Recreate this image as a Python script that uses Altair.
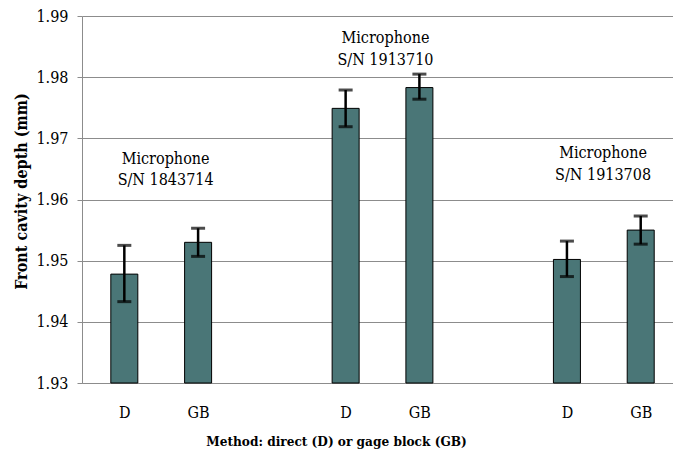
import altair as alt
import pandas as pd

# Bar slots: three microphones, two methods each, with an empty slot between groups
slot = [1, 2, 4, 5, 7, 8]
method = ["D", "GB", "D", "GB", "D", "GB"]
depth = [1.9478, 1.9530, 1.9749, 1.9783, 1.9502, 1.9550]
err_low = [1.9433, 1.9507, 1.9719, 1.9764, 1.9474, 1.9527]
err_high = [1.9525, 1.9553, 1.9779, 1.9805, 1.9532, 1.9573]

# Microphone labels placed above each group
ann_x = [1.56, 4.54, 7.49]
ann_line1 = ["Microphone", "Microphone", "Microphone"]
ann_line2 = ["S/N 1843714", "S/N 1913710", "S/N 1913708"]
ann_y1 = [1.9658, 1.9856, 1.9668]
ann_y2 = [1.9624, 1.9820, 1.9632]

y_ticks = [1.93, 1.94, 1.95, 1.96, 1.97, 1.98, 1.99]
y_base = 1.93

bars = pd.DataFrame({"slot": slot, "method": method, "depth": depth,
                     "lo": err_low, "hi": err_high})
ann = pd.DataFrame({"x": ann_x + ann_x, "y": ann_y1 + ann_y2,
                    "t": ann_line1 + ann_line2})

FONT = "DejaVu Serif Condensed"
label_expr = "(datum.value == 1 || datum.value == 4 || datum.value == 7) ? 'D' : 'GB'"

x_scale = alt.Scale(domain=[0.494, 8.37], nice=False, zero=False)
y_scale = alt.Scale(domain=[1.93, 1.99], nice=False, zero=False)

x_enc = alt.X(
    "slot:Q", scale=x_scale,
    axis=alt.Axis(values=slot, labelExpr=label_expr, grid=False, ticks=False,
                  domain=True, domainColor="#8c8c8c", labelFont=FONT,
                  labelFontSize=16, labelColor="black", labelBaseline="alphabetic",
                  labelPadding=34, labelFlush=False, labelOverlap=False,
                  title="Method: direct (D) or gage block (GB)",
                  titleFont=FONT, titleFontSize=13.5, titleFontWeight="bold",
                  titleColor="black", titleBaseline="alphabetic", titleX=254,
                  titleY=62, titleAnchor="middle"),
)
y_enc = alt.Y(
    "depth:Q", scale=y_scale,
    axis=alt.Axis(values=y_ticks, format=".2f", grid=True, gridColor="#8c8c8c",
                  gridWidth=1, domainColor="#8c8c8c", tickColor="#8c8c8c",
                  tickSize=5, labelFont=FONT, labelFontSize=16, labelColor="black",
                  labelPadding=9, title="Front cavity depth (mm)", titleFont=FONT,
                  titleFontSize=16, titleFontWeight="bold", titleColor="black",
                  titleX=-61, titleY=175, titleAngle=-90, titleBaseline="middle",
                  titleAnchor="middle"),
)

bar_layer = alt.Chart(bars).mark_bar(
    size=27, color="#4a7677", stroke="black", strokeWidth=1
).encode(x=x_enc, y=y_enc, y2=alt.datum(y_base))

whisker = alt.Chart(bars).mark_rule(color="black", strokeWidth=2.5).encode(
    x=alt.X("slot:Q", scale=x_scale),
    y=alt.Y("lo:Q", scale=y_scale),
    y2="hi:Q",
)
cap_lo = alt.Chart(bars).mark_tick(
    orient="horizontal", size=14, thickness=3, color="black"
).encode(x=alt.X("slot:Q", scale=x_scale), y=alt.Y("lo:Q", scale=y_scale))
cap_hi = alt.Chart(bars).mark_tick(
    orient="horizontal", size=14, thickness=3, color="black"
).encode(x=alt.X("slot:Q", scale=x_scale), y=alt.Y("hi:Q", scale=y_scale))

labels = alt.Chart(ann).mark_text(
    font=FONT, fontSize=16, color="black", align="center", baseline="alphabetic"
).encode(x=alt.X("x:Q", scale=x_scale), y=alt.Y("y:Q", scale=y_scale), text="t:N")

chart = alt.layer(bar_layer, whisker, cap_lo, cap_hi, labels).properties(
    width=591, height=367,
    autosize=alt.AutoSizeParams(type="none"),
    padding={"left": 82, "top": 16, "right": 0, "bottom": 72},
    background="white",
).configure_view(stroke=None)

chart.save("out.html", embed_options={"renderer": "svg", "actions": False})
